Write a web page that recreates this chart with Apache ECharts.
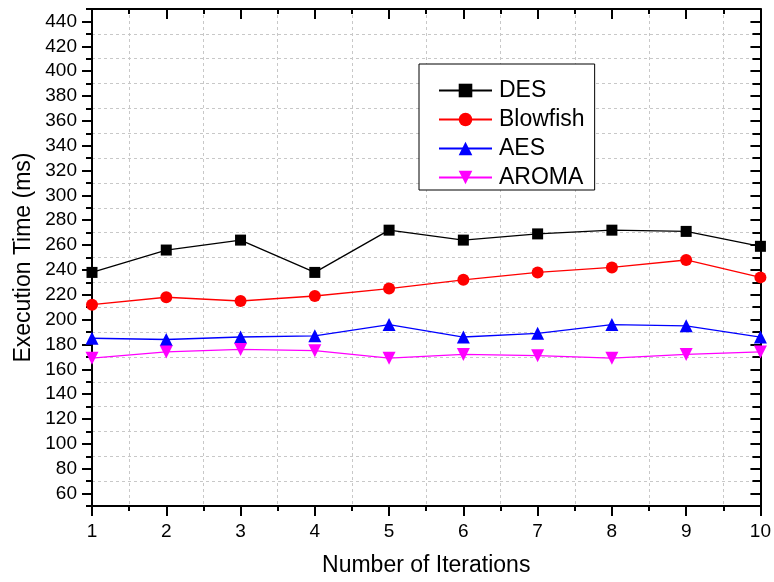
<!DOCTYPE html>
<html>
<head>
<meta charset="utf-8">
<script src="https://cdn.jsdelivr.net/npm/echarts@6/dist/echarts.min.js"></script>
<style>
html,body{margin:0;padding:0;background:#fff;}
#chart{width:774px;height:582px;}
</style>
</head>
<body>
<div id="chart"></div>
<script>
var iterations = [1, 2, 3, 4, 5, 6, 7, 8, 9, 10];
var desValues = [238, 256, 264, 238, 272, 264, 269, 272, 271, 259];
var blowfishValues = [212, 218, 215, 219, 225, 232, 238, 242, 248, 234];
var aesValues = [185, 184, 186, 187, 196, 186, 189, 196, 195, 186];
var aromaValues = [169, 174, 176, 175, 169, 172, 171, 169, 172, 174];
var seriesNames = ['DES', 'Blowfish', 'AES', 'AROMA'];

function pairs(vals) {
  return iterations.map(function (x, i) { return [x, vals[i]]; });
}

var FONT = '"Liberation Sans", Arial, sans-serif';
var chart = echarts.init(document.getElementById('chart'), null, {renderer: 'canvas'});

var gridLine = {show: true, lineStyle: {color: '#c8c8c8', type: [3, 3], width: 1}};

var option = {
  backgroundColor: '#ffffff',
  animation: false,
  textStyle: {fontFamily: FONT},
  grid: {left: 92, right: 12, top: 9, bottom: 76, containLabel: false},
  legend: {
    orient: 'vertical',
    left: 419,
    top: 64,
    data: seriesNames,
    itemWidth: 53,
    itemHeight: 17,
    itemGap: 6,
    padding: [15, 10, 1, 19],
    borderColor: '#000',
    borderWidth: 1,
    backgroundColor: '#fff',
    textStyle: {fontFamily: FONT, fontSize: 23, color: '#000', lineHeight: 20, padding: [0, 0, 0, 2]}
  },
  xAxis: [
    {
      type: 'value', position: 'bottom', min: 1, max: 10, interval: 1,
      name: 'Number of Iterations', nameLocation: 'middle', nameGap: 48,
      nameTextStyle: {fontFamily: FONT, fontSize: 23, color: '#000'},
      axisLine: {show: true, onZero: false, lineStyle: {color: '#000', width: 2}},
      axisTick: {show: true, inside: false, length: 10, lineStyle: {color: '#000', width: 2}},
      minorTick: {show: true, splitNumber: 2, length: 5, lineStyle: {color: '#000', width: 2}},
      axisLabel: {show: true, margin: 16, fontFamily: FONT, fontSize: 19, color: '#000'},
      splitLine: {show: false},
      minorSplitLine: gridLine
    },
    {
      type: 'value', position: 'top', min: 1, max: 10, interval: 1,
      axisLine: {show: true, onZero: false, lineStyle: {color: '#000', width: 2}},
      axisTick: {show: true, inside: true, length: 10, lineStyle: {color: '#000', width: 2}},
      minorTick: {show: true, splitNumber: 2, length: 5, lineStyle: {color: '#000', width: 2}},
      axisLabel: {show: false},
      splitLine: {show: false}
    }
  ],
  yAxis: [
    {
      type: 'value', position: 'left', min: 50, max: 450, interval: 20,
      name: 'Execution Time (ms)', nameLocation: 'middle', nameGap: 57,
      nameTextStyle: {fontFamily: FONT, fontSize: 23, color: '#000'},
      axisLine: {show: true, onZero: false, lineStyle: {color: '#000', width: 2}},
      axisTick: {show: true, inside: false, length: 6, lineStyle: {color: '#000', width: 2}},
      minorTick: {show: true, splitNumber: 2, length: 10, lineStyle: {color: '#000', width: 2}},
      axisLabel: {show: false},
      splitLine: gridLine
    },
    {
      type: 'value', position: 'left', min: 50, max: 450, interval: 10,
      axisLine: {show: false},
      axisTick: {show: false},
      axisLabel: {
        show: true, margin: 15, fontFamily: FONT, fontSize: 19, color: '#000',
        formatter: function (v) { return (v % 20 === 0) ? String(v) : ''; }
      },
      splitLine: {show: false}
    },
    {
      type: 'value', position: 'right', min: 50, max: 450, interval: 20,
      axisLine: {show: true, onZero: false, lineStyle: {color: '#000', width: 2}},
      axisTick: {show: true, inside: true, length: 8, lineStyle: {color: '#000', width: 2}},
      minorTick: {show: true, splitNumber: 2, length: 10, lineStyle: {color: '#000', width: 2}},
      axisLabel: {show: false},
      splitLine: {show: false}
    }
  ],
  series: [
    {
      name: 'DES', type: 'line', data: pairs(desValues),
      symbol: 'rect', symbolSize: 11,
      itemStyle: {color: '#000000'}, lineStyle: {color: '#000000', width: 1.3}
    },
    {
      name: 'Blowfish', type: 'line', data: pairs(blowfishValues),
      symbol: 'circle', symbolSize: 12,
      itemStyle: {color: '#ff0000'}, lineStyle: {color: '#ff0000', width: 1.3}
    },
    {
      name: 'AES', type: 'line', data: pairs(aesValues),
      symbol: 'triangle', symbolSize: 13,
      itemStyle: {color: '#0000ff'}, lineStyle: {color: '#0000ff', width: 1.3}
    },
    {
      name: 'AROMA', type: 'line', data: pairs(aromaValues),
      symbol: 'triangle', symbolRotate: 180, symbolSize: 13,
      itemStyle: {color: '#ff00ff'}, lineStyle: {color: '#ff00ff', width: 1.3}
    }
  ]
};
chart.setOption(option);
</script>
</body>
</html>
